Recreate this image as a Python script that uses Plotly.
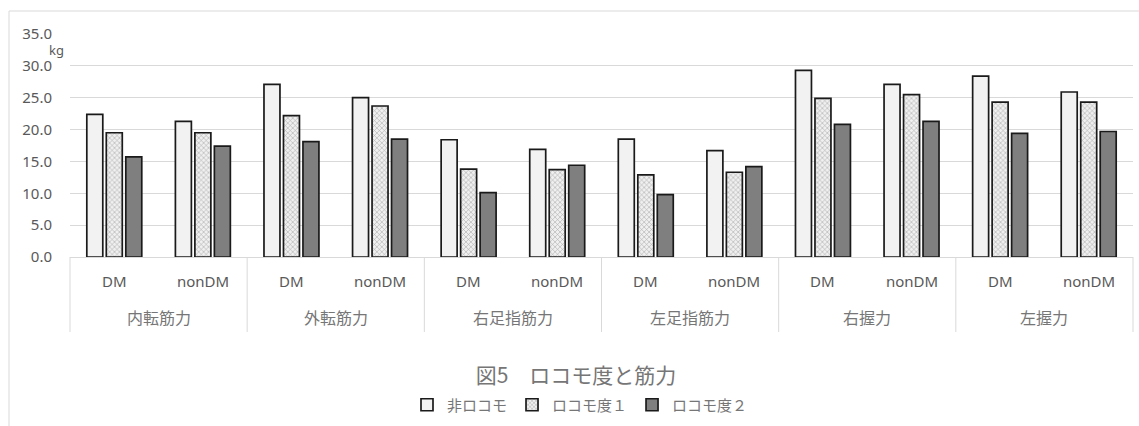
import plotly.graph_objects as go

# Muscle strength by locomotive-syndrome stage, split by DM / nonDM
groups = ["内転筋力", "外転筋力", "右足指筋力", "左足指筋力", "右握力", "左握力"]
subgroups = ["DM", "nonDM"]
series_names = ["非ロコモ", "ロコモ度１", "ロコモ度２"]

non_locomo = [22.4, 21.3, 27.1, 25.0, 18.4, 16.9, 18.5, 16.7, 29.3, 27.1, 28.4, 25.9]
locomo_1 = [19.5, 19.5, 22.2, 23.7, 13.8, 13.7, 12.9, 13.3, 24.9, 25.5, 24.3, 24.3]
locomo_2 = [15.7, 17.4, 18.1, 18.5, 10.1, 14.4, 9.8, 14.2, 20.8, 21.3, 19.4, 19.7]

y_ticks = [0, 5, 10, 15, 20, 25, 30, 35]

outer = [g for g in groups for _ in subgroups]
inner = [s for _ in groups for s in subgroups]
x = [outer, inner]
n_cat = len(inner)

W, H = 1139, 426
L, R, T, B = 70, 6, 34, 169

GRID = "#d9d9d9"
TEXT = "#595959"
JTEXT = "#767676"
FONT = "Noto Sans, Noto Sans CJK JP, sans-serif"
JFONT = "Noto Sans CJK JP, Noto Sans, sans-serif"

fig = go.Figure()
fig.add_trace(go.Bar(
    x=x, y=non_locomo, name=series_names[0],
    marker=dict(color="#f2f2f2", line=dict(color="#1a1a1a", width=1.7)),
))
fig.add_trace(go.Bar(
    x=x, y=locomo_1, name=series_names[1],
    marker=dict(
        color="#ececec",
        line=dict(color="#1a1a1a", width=1.7),
        pattern=dict(shape="x", size=3.5, solidity=0.3,
                     fgcolor="#a6a6a6", bgcolor="#f0f0f0", fillmode="replace"),
    ),
))
fig.add_trace(go.Bar(
    x=x, y=locomo_2, name=series_names[2],
    marker=dict(color="#7f7f7f", line=dict(color="#1a1a1a", width=1.7)),
))

plot_w = W - L - R
plot_h = H - T - B


def px_x(p):
    return (p - L) / plot_w


def px_y(p):
    return (H - B - p) / plot_h


# outer chart frame
fig.add_shape(type="rect", xref="paper", yref="paper",
              x0=px_x(9), x1=px_x(W + 20), y0=px_y(H + 20), y1=px_y(11),
              line=dict(color=GRID, width=1), fillcolor="rgba(0,0,0,0)",
              layer="below")

# two-level category labels and group dividers under the axis
for i, lab in enumerate(inner):
    fig.add_annotation(text=lab, xref="paper", yref="paper",
                       x=(i + 0.5) / n_cat, y=px_y(281),
                       xanchor="center", yanchor="middle",
                       showarrow=False,
                       font=dict(family=FONT, size=15, color=TEXT))
n_grp = len(groups)
for j, g in enumerate(groups):
    fig.add_annotation(text=g, xref="paper", yref="paper",
                       x=(j + 0.5) / n_grp, y=px_y(317),
                       xanchor="center", yanchor="middle",
                       showarrow=False,
                       font=dict(family=JFONT, size=16, color=JTEXT))
for j in range(n_grp + 1):
    fig.add_shape(type="line", xref="paper", yref="paper",
                  x0=j / n_grp, x1=j / n_grp, y0=0, y1=px_y(332),
                  line=dict(color=GRID, width=1))

# unit label
fig.add_annotation(text="kg", xref="paper", yref="paper",
                   x=px_x(56), y=px_y(50), xanchor="center", yanchor="middle",
                   showarrow=False,
                   font=dict(family=FONT, size=13, color=TEXT))

fig.update_layout(
    width=W, height=H,
    margin=dict(l=L, r=R, t=T, b=B),
    paper_bgcolor="white", plot_bgcolor="white",
    barmode="group", bargap=0.34, bargroupgap=0.18,
    title=dict(text="図5　ロコモ度と筋力", x=576 / W, xanchor="center",
               xref="container", yref="container",
               y=1 - 376 / H, yanchor="middle",
               font=dict(family=JFONT, size=21, color=JTEXT)),
    legend=dict(orientation="h", x=580 / W, xanchor="center",
                xref="container", yref="container",
                y=1 - 405 / H, yanchor="middle",
                font=dict(family=JFONT, size=15, color=JTEXT),
                itemwidth=30, traceorder="normal"),
    xaxis=dict(type="multicategory", showline=True, linecolor=GRID, linewidth=1,
               showdividers=False, showticklabels=False, ticks="",
               showgrid=False),
    yaxis=dict(range=[0, 35], tickvals=y_ticks, tickformat=".1f",
               showgrid=True, gridcolor=GRID, gridwidth=1,
               zeroline=False, showline=False, ticks="",
               ticklabelstandoff=17,
               tickfont=dict(family=FONT, size=15, color=TEXT)),
)

fig.write_html("out.html")
